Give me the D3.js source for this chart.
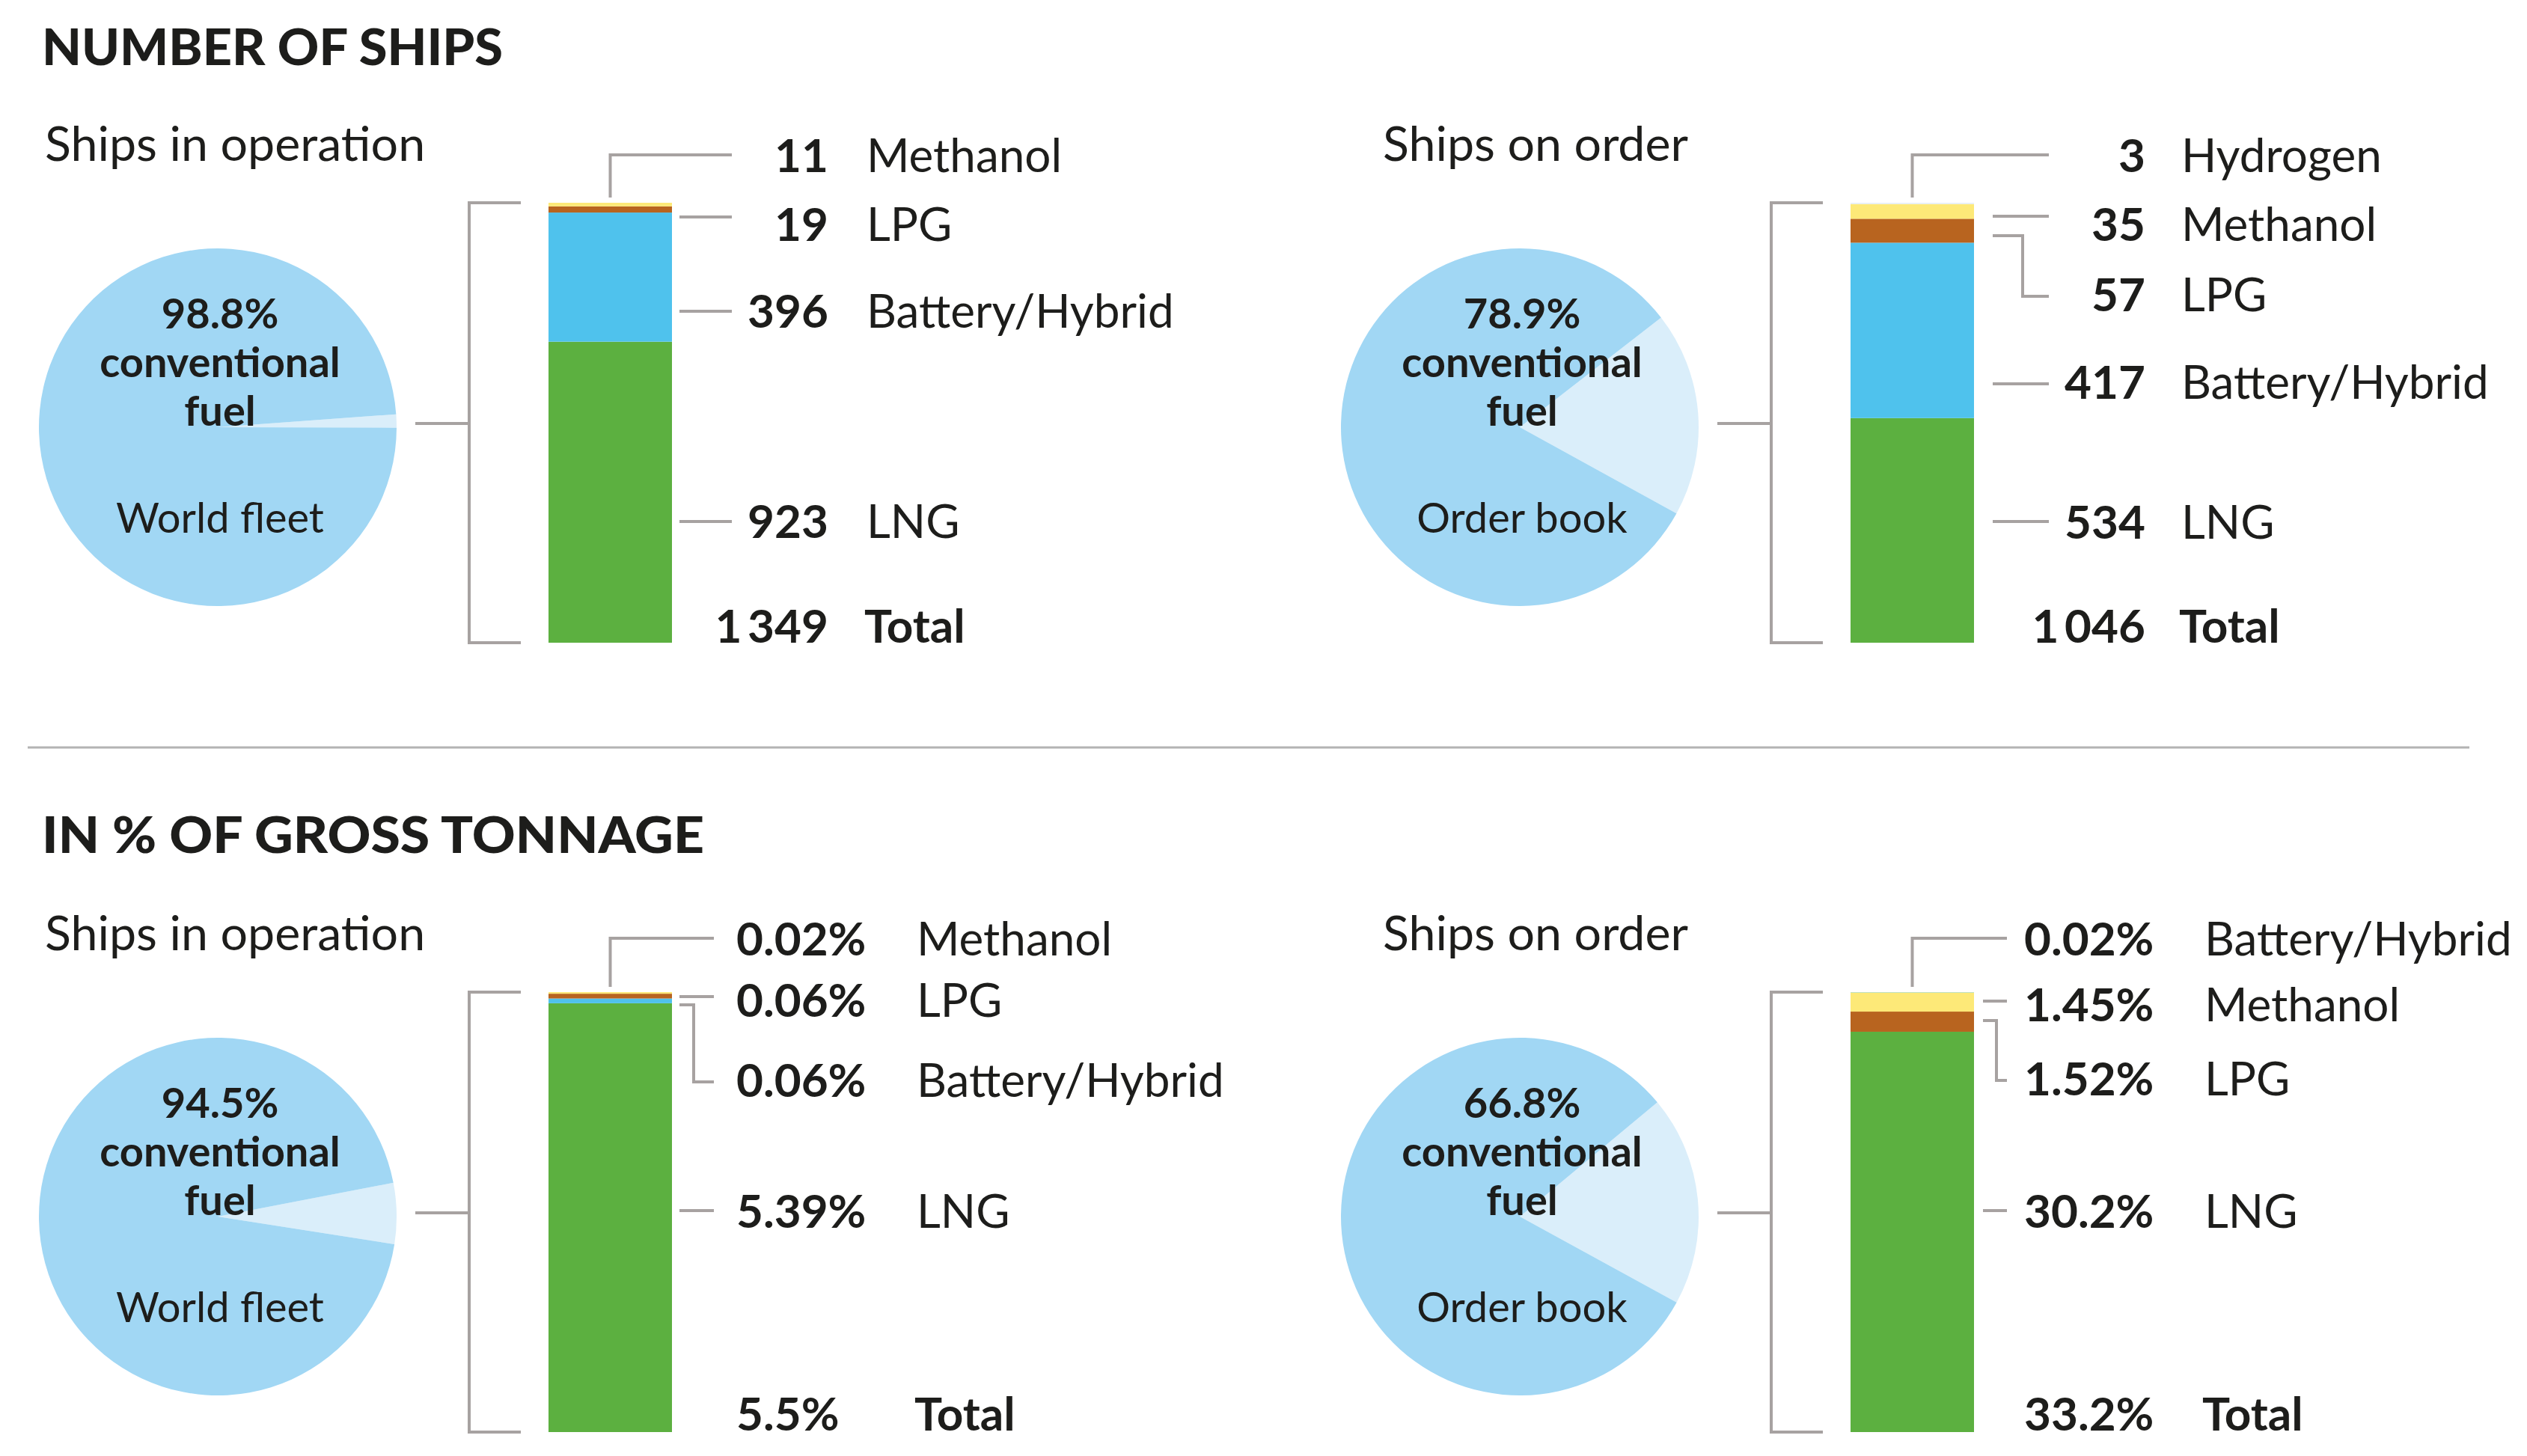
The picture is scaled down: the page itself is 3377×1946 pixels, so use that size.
<!DOCTYPE html>
<html>
<head>
<meta charset="utf-8">
<script src="https://cdn.jsdelivr.net/npm/d3@7/dist/d3.min.js"></script>
<style>
  body { margin: 0; background: #fff; }
  svg text { font-family: Lato, "Open Sans", sans-serif; fill: #1d1d1b; }
</style>
</head>
<body>
<svg id="chart" width="3377" height="1946"></svg>
<script>
// ---- DATA ----
const sectionTitles = ["NUMBER OF SHIPS", "IN % OF GROSS TONNAGE"]
const panelTitles = ["Ships in operation", "Ships on order", "Ships in operation", "Ships on order"]
const pieNames = ["World fleet", "Order book", "World fleet", "Order book"]
const conventionalShare = ["98.8%", "78.9%", "94.5%", "66.8%"]
// alternative fuel wedge as it is drawn in the original (order book wedges are not to scale there)
const pieAltDrawn = [1.2, 18.5, 5.5, 19.0]

// stacked bars, bottom to top
const fleetCountFuels = ["LNG", "Battery/Hybrid", "LPG", "Methanol"]
const fleetCountValues = [923, 396, 19, 11]
const orderCountFuels = ["LNG", "Battery/Hybrid", "LPG", "Methanol", "Hydrogen"]
const orderCountValues = [534, 417, 57, 35, 3]
const fleetGtFuels = ["LNG", "Battery/Hybrid", "LPG", "Methanol"]
const fleetGtValues = [5.39, 0.06, 0.06, 0.02]
const orderGtFuels = ["LNG", "LPG", "Methanol", "Battery/Hybrid"]
const orderGtValues = [30.2, 1.52, 1.45, 0.02]
const totalLabels = ["1\u2009349", "1\u2009046", "5.5%", "33.2%"]

const fuelColors = {
  "LNG": "#5cb040",
  "Battery/Hybrid": "#4fc2ed",
  "LPG": "#b8641f",
  "Methanol": "#fde978",
  "Hydrogen": "#e6eff6"
}

// ---- LAYOUT ----
let svg = d3.select("#chart")
const lineColor = "#a7a2a1"
const pieR = 239
const barW = 165, barH = 588

const countFmt = (v) => String(v)
const pctFmt = (v) => v + "%"

// label slots are given relative to the bar top (text = vertical centre of the label)
const panels = [
  { dx: 0, dy: 0, fuels: fleetCountFuels, values: fleetCountValues, fmt: countFmt,
    wedgeAt: 88, numX: 374, numAnchor: "end", nameX: 425, x1: 175, xm: 0, x2: 245, totalY: 566,
    labels: [
      { fuel: "Methanol", kind: "up", line: -64, text: -63 },
      { fuel: "LPG", kind: "flat", line: 19, text: 29 },
      { fuel: "Battery/Hybrid", kind: "flat", line: 145, text: 145 },
      { fuel: "LNG", kind: "flat", line: 426, text: 426 }
    ] },
  { dx: 1740, dy: 0, fuels: orderCountFuels, values: orderCountValues, fmt: countFmt,
    wedgeAt: 85.5, numX: 394, numAnchor: "end", nameX: 442, x1: 190, xm: 230, x2: 265, totalY: 566,
    labels: [
      { fuel: "Hydrogen", kind: "up", line: -64, text: -63 },
      { fuel: "Methanol", kind: "flat", line: 18, text: 29 },
      { fuel: "LPG", kind: "elbow", line: 44, text: 123 },
      { fuel: "Battery/Hybrid", kind: "flat", line: 242, text: 240 },
      { fuel: "LNG", kind: "flat", line: 426, text: 427 }
    ] },
  { dx: 0, dy: 1055, fuels: fleetGtFuels, values: fleetGtValues, fmt: pctFmt,
    wedgeAt: 89, numX: 251, numAnchor: "start", nameX: 492, x1: 175, xm: 194, x2: 221, totalY: 564,
    labels: [
      { fuel: "Methanol", kind: "up", line: -72, text: -71 },
      { fuel: "LPG", kind: "flat", line: 6, text: 11 },
      { fuel: "Battery/Hybrid", kind: "elbow", line: 17, text: 118 },
      { fuel: "LNG", kind: "flat", line: 292, text: 293 }
    ] },
  { dx: 1740, dy: 1055, fuels: orderGtFuels, values: orderGtValues, fmt: pctFmt,
    wedgeAt: 84.5, numX: 232, numAnchor: "start", nameX: 473, x1: 177, xm: 195, x2: 209, totalY: 564,
    labels: [
      { fuel: "Battery/Hybrid", kind: "up", line: -72, text: -71 },
      { fuel: "Methanol", kind: "flat", line: 12, text: 17 },
      { fuel: "LPG", kind: "elbow", line: 38, text: 116 },
      { fuel: "LNG", kind: "flat", line: 292, text: 293 }
    ] }
]

// ---- SECTION TITLES + DIVIDER ----
const titleWidths = [616, 885]
svg.selectAll(".section-title")
  .data(sectionTitles)
  .enter().append("text")
    .attr("class", "section-title")
    .attr("x", 56)
    .attr("y", (d, i) => 87 + i * 1053)
    .attr("textLength", (d, i) => titleWidths[i])
    .attr("lengthAdjust", "spacingAndGlyphs")
    .style("font-size", "67px")
    .style("font-weight", 900)
    .text(d => d)

svg.append("line")
  .attr("x1", 37).attr("x2", 3300)
  .attr("y1", 999).attr("y2", 999)
  .style("stroke", "#b3b3b3")
  .style("stroke-width", 3)

// ---- PANELS ----
panels.forEach((p, i) => {
  let g = svg.append("g").attr("transform", "translate(" + p.dx + "," + p.dy + ")")
  const barX = 733, barTop = 271
  const cx = 291, cy = 571

  // panel title
  g.append("text")
    .attr("x", i % 2 ? 108 : 60)
    .attr("y", 215)
    .style("font-size", "64.5px")
    .text(panelTitles[i])

  // pie: alternative-fuel wedge first, centred on p.wedgeAt degrees
  let wedge = pieAltDrawn[i] / 100 * 2 * Math.PI
  let a0 = p.wedgeAt * Math.PI / 180 - wedge / 2
  let pie = d3.pie().sort(null).value(d => d)
    .startAngle(a0).endAngle(a0 + 2 * Math.PI)
  let arc = d3.arc().innerRadius(0).outerRadius(pieR)

  g.append("g")
    .attr("transform", "translate(" + cx + "," + cy + ")")
    .selectAll("path")
    .data(pie([pieAltDrawn[i], 100 - pieAltDrawn[i]]))
    .enter().append("path")
      .attr("d", arc)
      .style("fill", (d, j) => j === 0 ? "#daeefa" : "#a1d7f4")

  // pie text
  let pieText = [conventionalShare[i], "conventional", "fuel"]
  g.selectAll(".pie-text")
    .data(pieText)
    .enter().append("text")
      .attr("class", "pie-text")
      .attr("x", cx + 3)
      .attr("y", (d, j) => cy - 132 + j * 65)
      .attr("text-anchor", "middle")
      .style("font-size", "56px")
      .style("font-weight", 700)
      .text(d => d)

  g.append("text")
    .attr("x", cx + 3)
    .attr("y", cy + 141)
    .attr("text-anchor", "middle")
    .style("font-size", "56px")
    .text(pieNames[i])

  // bracket from pie to bar
  let bracket = d3.path()
  bracket.moveTo(barX - 37, barTop)
  bracket.lineTo(barX - 106, barTop)
  bracket.lineTo(barX - 106, barTop + barH)
  bracket.lineTo(barX - 37, barTop + barH)
  bracket.moveTo(barX - 106, cy - 5)
  bracket.lineTo(barX - 178, cy - 5)
  g.append("path")
    .attr("d", bracket.toString())
    .style("fill", "none")
    .style("stroke", lineColor)
    .style("stroke-width", 4)

  // stacked bar
  let row = {}
  p.fuels.forEach((f, k) => { row[f] = p.values[k] })
  let series = d3.stack().keys(p.fuels)([row])
  let y = d3.scaleLinear()
    .domain([0, d3.sum(p.values)])
    .range([barTop + barH, barTop])

  g.selectAll(".seg")
    .data(series)
    .enter().append("rect")
      .attr("class", "seg")
      .attr("x", barX)
      .attr("width", barW)
      .attr("y", d => y(d[0][1]))
      .attr("height", d => y(d[0][0]) - y(d[0][1]))
      .style("fill", d => fuelColors[d.key])

  // leader lines + labels
  p.labels.forEach((l) => {
    let path = d3.path()
    let ly = barTop + l.line
    if (l.kind === "up") {
      path.moveTo(barX + barW / 2, barTop - 7)
      path.lineTo(barX + barW / 2, ly)
      path.lineTo(barX + p.x2, ly)
    } else if (l.kind === "elbow") {
      path.moveTo(barX + p.x1, ly)
      path.lineTo(barX + p.xm, ly)
      path.lineTo(barX + p.xm, barTop + l.text + 2)
      path.lineTo(barX + p.x2, barTop + l.text + 2)
    } else {
      path.moveTo(barX + p.x1, ly)
      path.lineTo(barX + p.x2, ly)
    }
    g.append("path")
      .attr("d", path.toString())
      .style("fill", "none")
      .style("stroke", lineColor)
      .style("stroke-width", 4)

    let k = p.fuels.indexOf(l.fuel)
    g.append("text")
      .attr("x", barX + p.numX)
      .attr("y", barTop + l.text + 22)
      .attr("text-anchor", p.numAnchor)
      .style("font-size", "62px")
      .style("font-weight", 700)
      .text(p.fmt(p.values[k]))
    g.append("text")
      .attr("x", barX + p.nameX)
      .attr("y", barTop + l.text + 22)
      .style("font-size", "62px")
      .text(l.fuel)
  })

  // total
  g.append("text")
    .attr("x", barX + p.numX)
    .attr("y", barTop + p.totalY + 22)
    .attr("text-anchor", p.numAnchor)
    .style("font-size", "62px")
    .style("font-weight", 700)
    .text(totalLabels[i])
  g.append("text")
    .attr("x", barX + p.nameX - 3)
    .attr("y", barTop + p.totalY + 22)
    .style("font-size", "62px")
    .style("font-weight", 700)
    .text("Total")
})
</script>
</body>
</html>
